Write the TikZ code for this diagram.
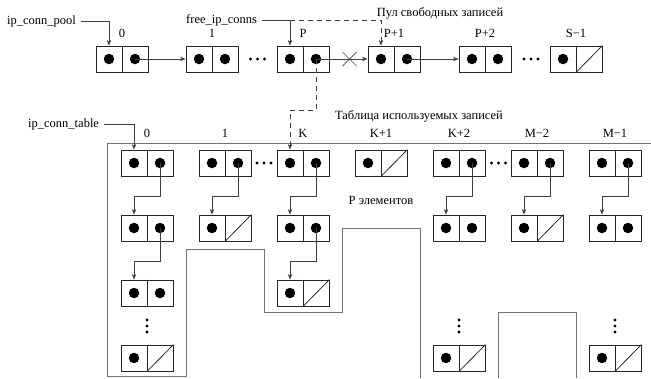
\documentclass[tikz,border=0pt]{standalone}
\usepackage{fontspec}
\setmainfont{Liberation Serif}
\usetikzlibrary{arrows.meta}
\newcommand\cellF[3]{%
  \node[cellb] (#1) at (#2,#3) {};
  \draw[cellline] (#1.north) -- (#1.south);
  \node[bdot] (#1-l) at ([xshift=-13pt]#1.center) {};
  \node[bdot] (#1-r) at ([xshift=13pt]#1.center) {};}
\newcommand\cellE[3]{%
  \node[cellb] (#1) at (#2,#3) {};
  \draw[cellline] (#1.north) -- (#1.south);
  \node[bdot] (#1-l) at ([xshift=-13pt]#1.center) {};
  \draw[cellline] (#1.south) -- (#1.north east);}
\newcommand\hdots[2]{%
  \fill (#1-7,#2) circle (1.7) (#1,#2) circle (1.7) (#1+7,#2) circle (1.7);}
\newcommand\vdotsx[2]{%
  \fill (#1,#2-6) circle (1.7) (#1,#2) circle (1.7) (#1,#2+6) circle (1.7);}
\begin{document}
\begin{tikzpicture}[x=1pt,y=-1pt,
  cellb/.style={draw=black!85, line width=0.9pt, minimum width=52pt, minimum height=26pt, inner sep=0pt, rectangle},
  cellline/.style={draw=black!85, line width=0.8pt},
  bdot/.style={circle, fill=black, inner sep=0pt, minimum size=10.5pt},
  conn/.style={draw=black!75, line width=0.7pt, -{Stealth[length=5.5pt,width=4.5pt]}},
  dsh/.style={dash pattern=on 5pt off 4pt},
  frame/.style={draw=black!55, line width=1pt},
  lbl/.style={font=\fontsize{12.5}{14}\selectfont, inner sep=0pt},
]
\useasboundingbox (0,0) rectangle (651,378);

% ---------- top row (pool) ----------
\cellF{p0}{122}{59}
\cellF{p1}{212}{59}
\cellF{pP}{303}{59}
\cellF{pP1}{394}{59}
\cellF{pP2}{485}{59}
\cellE{pS}{576}{59}
\hdots{257.5}{59}
\hdots{531}{59}

\node[lbl] (lp0) at (122,33) {0};
\node[lbl] (lp1) at (212,33) {1};
\node[lbl] (lpP) at (303,33) {P};
\node[lbl] (lpP1) at (394,33) {P+1};
\node[lbl] (lpP2) at (485,33) {P+2};
\node[lbl] (lpS) at (576,33) {S−1};
\node[lbl] (pooltitle) at (440,13) {Пул свободных записей};

\draw[conn] (p0-r.center) -- (p1.west);
\draw[conn] (pP-r.center) -- (pP1.west);
\draw[conn] (pP1-r.center) -- (pP2.west);
\draw[draw=black!75, line width=0.7pt] (342.5,52) -- (356.5,66) (342.5,66) -- (356.5,52);

\node[lbl, anchor=west] (pool) at (7,21) {ip\_conn\_pool};
\draw[conn] ([xshift=5pt]pool.east) -| (p0-l |- p0.north);
\node[lbl, anchor=west] (free) at (186,20) {free\_ip\_conns};
\draw[conn] ([xshift=5pt]free.east) -| (pP-l |- pP.north);
\draw[conn, dsh] (pP-l |- free.east) -| (pP1-l |- pP1.north);

% ---------- table ----------
\node[lbl] (tbltitle) at (419,116) {Таблица используемых записей};
\node[lbl] (pel) at (381,200) {P элементов};
\node[lbl, anchor=west] (tbl) at (28,124) {ip\_conn\_table};

\draw[frame] (651,143) -- (107,143) -- (107,376) -- (186,376) -- (186,249) -- (264,249)
  -- (264,312) -- (342,312) -- (342,228) -- (420,228) -- (420,378);
\draw[frame] (498,378) -- (498,312) -- (576,312) -- (576,378);

\node[lbl] (l0) at (147,133) {0};
\node[lbl] (l1) at (225,133) {1};
\node[lbl] (lK) at (303,133) {K};
\node[lbl] (lK1) at (381,133) {K+1};
\node[lbl] (lK2) at (459,133) {K+2};
\node[lbl] (lM2) at (537,133) {M−2};
\node[lbl] (lM1) at (615,133) {M−1};

\cellF{t0a}{147}{163}
\cellF{t0b}{147}{228}
\cellF{t0c}{147}{293}
\cellE{t0e}{147}{358}
\vdotsx{147}{326}

\cellF{t1a}{225}{163}
\cellE{t1b}{225}{228}

\cellF{tKa}{303}{163}
\cellF{tKb}{303}{228}
\cellE{tKc}{303}{293}

\cellE{tKIa}{381}{163}

\cellF{tKIIa}{459}{163}
\cellF{tKIIb}{459}{228}
\cellE{tKIIe}{459}{358}
\vdotsx{459}{326}

\cellF{tMIIa}{537}{163}
\cellE{tMIIb}{537}{228}

\cellF{tMIa}{615}{163}
\cellF{tMIb}{615}{228}
\cellE{tMIe}{615}{358}
\vdotsx{615}{326}

\hdots{264}{163}
\hdots{498.5}{163}

\draw[conn] ([xshift=5pt]tbl.east) -| (t0a-l |- t0a.north);

\draw[conn] (t0a-r.center) -- ++(0,33) -| (t0b-l |- t0b.north);
\draw[conn] (t0b-r.center) -- ++(0,33) -| (t0c-l |- t0c.north);
\draw[conn] (t1a-r.center) -- ++(0,33) -| (t1b-l |- t1b.north);
\draw[conn] (tKa-r.center) -- ++(0,33) -| (tKb-l |- tKb.north);
\draw[conn] (tKb-r.center) -- ++(0,33) -| (tKc-l |- tKc.north);
\draw[conn] (tKIIa-r.center) -- ++(0,33) -| (tKIIb-l |- tKIIb.north);
\draw[conn] (tMIIa-r.center) -- ++(0,33) -| (tMIIb-l |- tMIIb.north);
\draw[conn] (tMIa-r.center) -- ++(0,33) -| (tMIb-l |- tMIb.north);

\draw[conn, dsh] (pP-r.center) -- ++(0,51) -| (tKa-l |- tKa.north);
\end{tikzpicture}
\end{document}
